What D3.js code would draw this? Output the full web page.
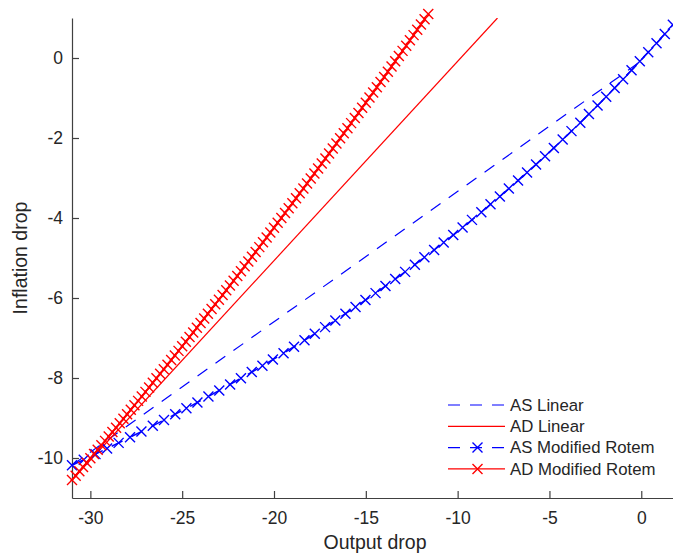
<!DOCTYPE html>
<html>
<head>
<meta charset="utf-8">
<script src="https://cdn.jsdelivr.net/npm/d3@7"></script>
<style>
    body { margin: 0; background: #fff; }
    #chart-area { width: 673px; height: 553px; }
    text { font-family: "Liberation Sans", Arial, sans-serif; fill: #262626; }
</style>
</head>
<body>
<div id="chart-area"></div>
<script>

// Data
const asLinX = [-31, -0.2];
const asLinY = [-10.18, -0.14];

const adLinX = [-31, -7.83];
const adLinY = [-10.55, 1.0];

const asModX = [-31, -30.36, -29.72, -29.09, -28.46, -27.84, -27.22, -26.6, -25.99, -25.38,
    -24.77, -24.17, -23.57, -22.98, -22.39, -21.8, -21.21, -20.63, -20.06, -19.48,
    -18.91, -18.34, -17.78, -17.22, -16.66, -16.11, -15.56, -15.02, -14.47, -13.93,
    -13.4, -12.86, -12.33, -11.81, -11.28, -10.76, -10.24, -9.73, -9.22, -8.71,
    -8.21, -7.7, -7.21, -6.71, -6.22, -5.73, -5.24, -4.76, -4.28, -3.8,
    -3.32, -2.85, -2.38, -1.91, -1.45, -0.99, -0.53, -0.08, 0.38, 0.83,
    1.28, 1.72, 2.16];
const asModY = [-10.18, -10.042, -9.903, -9.763, -9.622, -9.481, -9.339, -9.195, -9.051, -8.905,
    -8.759, -8.611, -8.462, -8.311, -8.16, -8.006, -7.852, -7.696, -7.539, -7.38,
    -7.219, -7.057, -6.894, -6.728, -6.561, -6.393, -6.223, -6.051, -5.878, -5.702,
    -5.526, -5.347, -5.166, -4.984, -4.8, -4.614, -4.427, -4.238, -4.047, -3.854,
    -3.659, -3.463, -3.265, -3.065, -2.863, -2.66, -2.454, -2.248, -2.039, -1.828,
    -1.616, -1.402, -1.187, -0.969, -0.75, -0.529, -0.307, -0.083, 0.143, 0.37,
    0.599, 0.83, 1.062];

const adModX = [-31, -30.8, -30.6, -30.4, -30.2, -30, -29.8, -29.6, -29.4, -29.2,
    -29, -28.8, -28.6, -28.4, -28.2, -28, -27.8, -27.6, -27.4, -27.2,
    -27, -26.8, -26.6, -26.4, -26.2, -26, -25.8, -25.6, -25.4, -25.2,
    -25, -24.8, -24.6, -24.4, -24.2, -24, -23.8, -23.6, -23.4, -23.2,
    -23, -22.8, -22.6, -22.4, -22.2, -22, -21.8, -21.6, -21.4, -21.2,
    -21, -20.8, -20.6, -20.4, -20.2, -20, -19.8, -19.6, -19.4, -19.2,
    -19, -18.8, -18.6, -18.4, -18.2, -18, -17.8, -17.6, -17.4, -17.2,
    -17, -16.8, -16.6, -16.4, -16.2, -16, -15.8, -15.6, -15.4, -15.2,
    -15, -14.8, -14.6, -14.4, -14.2, -14, -13.8, -13.6, -13.4, -13.2,
    -13, -12.8, -12.6, -12.4, -12.2, -12, -11.8, -11.6];
const adModY = [-10.55, -10.442, -10.334, -10.226, -10.118, -10.009, -9.9, -9.791, -9.681, -9.572,
    -9.462, -9.351, -9.241, -9.13, -9.019, -8.908, -8.796, -8.684, -8.572, -8.46,
    -8.347, -8.235, -8.121, -8.008, -7.894, -7.781, -7.666, -7.552, -7.437, -7.322,
    -7.207, -7.092, -6.976, -6.86, -6.744, -6.627, -6.511, -6.394, -6.276, -6.159,
    -6.041, -5.923, -5.805, -5.686, -5.567, -5.448, -5.329, -5.209, -5.09, -4.969,
    -4.849, -4.728, -4.608, -4.486, -4.365, -4.243, -4.121, -3.999, -3.877, -3.754,
    -3.631, -3.508, -3.384, -3.261, -3.137, -3.012, -2.888, -2.763, -2.638, -2.513,
    -2.387, -2.261, -2.135, -2.009, -1.882, -1.756, -1.628, -1.501, -1.373, -1.246,
    -1.117, -0.989, -0.86, -0.731, -0.602, -0.473, -0.343, -0.213, -0.083, 0.048,
    0.178, 0.309, 0.441, 0.572, 0.704, 0.836, 0.968, 1.101];

const xTicks = [-30, -25, -20, -15, -10, -5, 0];
const yTicks = [-10, -8, -6, -4, -2, 0];
const legendLabels = ["AS Linear", "AD Linear", "AS Modified Rotem", "AD Modified Rotem"];


class DropVis {
    constructor(parentElement) {
        this.parentElement = parentElement;
        this.initVis();
    }

    initVis() {
        let vis = this;

        // Margin Convention (plot runs a bit past the right edge of the window)
        vis.margin = {top: 18, left: 72};
        vis.width = 606;
        vis.height = 480;

        vis.svg = d3.select("#" + vis.parentElement).append("svg")
            .attr("width", 673)
            .attr("height", 553)
            .append("g")
            .attr("transform", "translate(" + vis.margin.left + "," + vis.margin.top + ")");

        vis.x = d3.scaleLinear().domain([-31, 2]).range([0, vis.width]);
        vis.y = d3.scaleLinear().domain([-11, 1]).range([vis.height, 0]);

        vis.svg.append("clipPath").attr("id", "plot-clip")
            .append("rect")
            .attr("width", vis.width)
            .attr("height", vis.height);

        vis.series = [
            {xs: asLinX, ys: asLinY, color: "#0000ff", dash: "12,10", marker: false},
            {xs: adLinX, ys: adLinY, color: "#ff0000", dash: null, marker: false},
            {xs: asModX, ys: asModY, color: "#0000ff", dash: "12,10", marker: true},
            {xs: adModX, ys: adModY, color: "#ff0000", dash: null, marker: true}
        ];

        vis.drawAxes();
        vis.updateVis();
        vis.drawLegend();
    }

    drawAxes() {
        let vis = this;

        // plain hyphen for negatives, like the original figure
        let fmt = d => String(d);

        let xAxis = d3.axisBottom(vis.x).tickValues(xTicks).tickFormat(fmt)
            .tickSizeInner(-7).tickSizeOuter(0).tickPadding(14);
        let yAxis = d3.axisLeft(vis.y).tickValues(yTicks).tickFormat(fmt)
            .tickSizeInner(-7).tickSizeOuter(0).tickPadding(9);

        vis.svg.append("g")
            .attr("class", "x-axis")
            .attr("transform", "translate(0," + vis.height + ")")
            .call(xAxis);
        vis.svg.append("g")
            .attr("class", "y-axis")
            .call(yAxis);

        vis.svg.selectAll(".x-axis path, .y-axis path, .tick line")
            .attr("stroke", "#404040")
            .attr("stroke-width", 1.2);
        vis.svg.selectAll(".tick text")
            .attr("font-size", 17.5)
            .attr("font-family", "Liberation Sans, Arial, sans-serif")
            .attr("fill", "#262626");

        vis.svg.append("text")
            .attr("x", vis.width / 2)
            .attr("y", 531)
            .attr("text-anchor", "middle")
            .attr("font-size", 19.5)
            .text("Output drop");

        vis.svg.append("text")
            .attr("transform", "translate(-45," + (vis.height / 2) + ") rotate(-90)")
            .attr("text-anchor", "middle")
            .attr("font-size", 19.5)
            .text("Inflation drop");
    }

    updateVis() {
        let vis = this;

        let line = d3.line()
            .x(d => vis.x(d[0]))
            .y(d => vis.y(d[1]));

        vis.series.forEach(s => {
            let pts = s.xs.map((x, i) => [x, s.ys[i]]);

            vis.svg.append("path")
                .datum(pts)
                .attr("clip-path", "url(#plot-clip)")
                .attr("fill", "none")
                .attr("stroke", s.color)
                .attr("stroke-width", s.marker ? 1.5 : 1.2)
                .attr("stroke-dasharray", s.dash)
                .attr("d", line);

            if (s.marker) {
                let inside = pts.filter(p => p[0] <= vis.x.domain()[1] && p[1] <= 1.12);
                vis.svg.append("g")
                    .selectAll("path")
                    .data(inside)
                    .enter().append("path")
                    .attr("transform", p => "translate(" + vis.x(p[0]) + "," + vis.y(p[1]) + ")")
                    .attr("d", "M-5,-5L5,5M-5,5L5,-5")
                    .attr("stroke", s.color)
                    .attr("stroke-width", 1.4);
            }
        });
    }

    drawLegend() {
        let vis = this;

        let legend = vis.svg.append("g")
            .attr("transform", "translate(" + (448 - vis.margin.left) + "," + (405 - vis.margin.top) + ")");

        let rows = legend.selectAll("g")
            .data(vis.series)
            .enter().append("g")
            .attr("transform", (d, i) => "translate(0," + (i * 21.3) + ")");

        rows.append("line")
            .attr("x1", 0).attr("x2", 57)
            .attr("stroke", d => d.color)
            .attr("stroke-width", 1.2)
            .attr("stroke-dasharray", d => d.dash);

        rows.filter(d => d.marker).append("path")
            .attr("transform", "translate(29.5,0)")
            .attr("d", "M-5,-5L5,5M-5,5L5,-5")
            .attr("stroke", d => d.color)
            .attr("stroke-width", 1.4);

        rows.append("text")
            .attr("x", 62)
            .attr("dy", "0.35em")
            .attr("font-size", 16.8)
            .text((d, i) => legendLabels[i]);
    }
}

new DropVis("chart-area");

</script>
</body>
</html>
